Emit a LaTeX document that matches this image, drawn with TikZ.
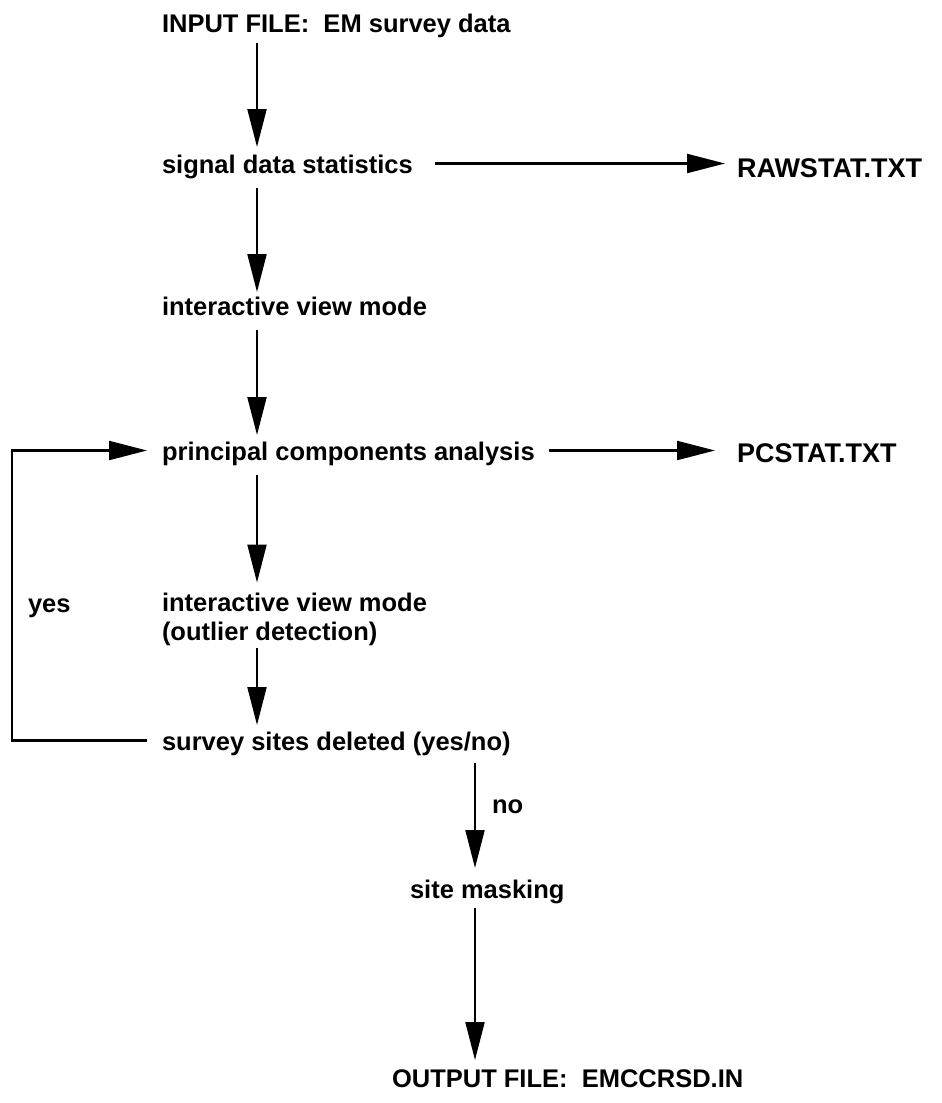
\documentclass[tikz,border=0pt]{standalone}
\usepackage{fontspec}
\setmainfont{Liberation Sans}
\usetikzlibrary{arrows.meta}
\begin{document}
\begin{tikzpicture}[x=1pt,y=-1pt,
  txt/.style={inner sep=0pt, outer sep=0pt, text height=19pt, text depth=0pt,
    anchor=base west, font=\fontsize{25.5}{29}\bfseries\selectfont, align=left},
  bigtxt/.style={txt, font=\fontsize{27}{29}\bfseries\selectfont},
  arr/.style={line width=2.1pt, -{Triangle[length=38pt,width=19pt]}},
  vert/.style={arr, shorten <=11pt, shorten >=7pt}]
\fill[white] (0,0) rectangle (942,1103);
\useasboundingbox (0,0) rectangle (942,1103);
\coordinate (colA) at (257,0);
\coordinate (colB) at (475,0);
\coordinate (loopx) at (12,0);
% nodes
\node[txt] (in)   at (162,32)  {INPUT FILE:\ \ EM survey data};
\node[txt] (sig)  at (162,173) {signal data statistics};
\node[bigtxt] (raw)  at (737,177) {RAWSTAT.TXT};
\node[txt] (ivm)  at (162,315) {interactive view mode};
\node[txt] (pca)  at (162,460) {principal components analysis};
\node[bigtxt] (pcs)  at (737,462) {PCSTAT.TXT};
\node[txt, text height={}] (ivm2) at (162,640) {interactive view mode\\(outlier detection)};
\node[txt] (sdel) at (162,750) {survey sites deleted (yes/no)};
\node[txt] (yes)  at (28,612)  {yes};
\node[txt] (no)   at (492,813) {no};
\node[txt] (mask) at (410,898) {site masking};
\node[txt] (out)  at (392,1087) {OUTPUT FILE:\ \ EMCCRSD.IN};
% vertical connectors
\draw[vert] (in.south -| colA) -- (sig.north -| colA);
\draw[vert, shorten <=15pt, shorten >=4pt] (sig.south -| colA) -- (ivm.north -| colA);
\draw[vert, shorten <=15pt, shorten >=6pt] (ivm.south -| colA) -- (pca.north -| colA);
\draw[vert, shorten <=15pt, shorten >=10pt] (pca.south -| colA) -- (ivm2.north -| colA);
\draw[vert, shorten <=8pt, shorten >=6pt] (ivm2.south -| colA) -- (sdel.north -| colA);
\draw[vert, shorten <=13pt, shorten >=11pt] (sdel.south -| colB) -- (mask.north -| colB);
\draw[vert, shorten <=10pt, shorten >=8pt] (mask.south -| colB) -- (out.north -| colB);
% horizontal connectors
\draw[arr, shorten <=22pt, shorten >=12pt] (sig.east) -- (sig.east -| raw.west);
\draw[arr, shorten <=14pt, shorten >=22pt] (pca.east) -- (pca.east -| pcs.west);
% feedback loop
\draw[arr] ([xshift=-15pt]sdel.west) -- (sdel.west -| loopx) |- ([xshift=-15pt]pca.west);
\end{tikzpicture}
\end{document}
